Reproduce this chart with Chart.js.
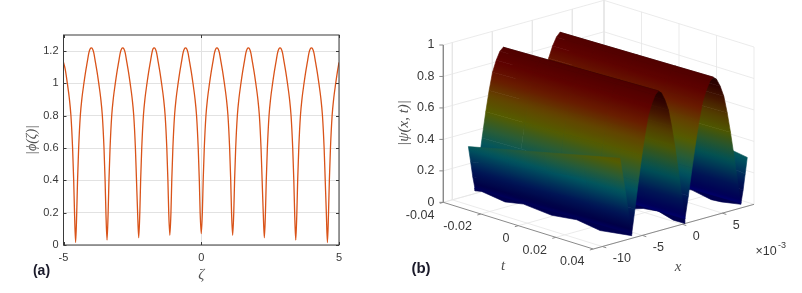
<!DOCTYPE html>
<html>
<head>
<meta charset="utf-8">
<title>phi and psi</title>
<script src="https://cdn.jsdelivr.net/npm/chart.js@4"></script>
<style>
    html, body { margin: 0; padding: 0; background: #fff; overflow: hidden; }
    canvas { position: absolute; top: 0; filter: blur(0.35px); }
    #grafico-a { left: 0; }
    #grafico-b { left: 380px; }
</style>
</head>
<body>
<canvas id="grafico-a" width="380" height="293"></canvas>
<canvas id="grafico-b" width="422" height="293"></canvas>
<script>
// panel (a)
const zeta = [-5, -4.94, -4.86, -4.79, -4.73, -4.67, -4.63, -4.6, -4.56,
    -4.52, -4.49, -4.45, -4.39, -4.33, -4.26, -4.2, -4.14, -4.08, -4.03, -3.99, -3.95, -3.9, -3.84, -3.78, -3.72, -3.65, -3.59, -3.53, -3.49, -3.46, -3.42,
    -3.38, -3.35, -3.31, -3.25, -3.19, -3.12, -3.06, -3, -2.94, -2.89, -2.85, -2.81, -2.76, -2.7, -2.64, -2.58, -2.51, -2.45, -2.39, -2.35, -2.31, -2.27,
    -2.23, -2.2, -2.16, -2.1, -2.04, -1.97, -1.91, -1.85, -1.79, -1.75, -1.71, -1.67, -1.62, -1.56, -1.5, -1.44, -1.37, -1.31, -1.25, -1.21, -1.18, -1.14,
    -1.1, -1.07, -1.03, -0.97, -0.91, -0.84, -0.78, -0.72, -0.66, -0.61, -0.57, -0.53, -0.48, -0.42, -0.36, -0.3, -0.23, -0.17, -0.11, -0.07, -0.04, 0,
    0.04, 0.07, 0.11, 0.17, 0.23, 0.3, 0.36, 0.42, 0.48, 0.53, 0.57, 0.61, 0.66, 0.72, 0.78, 0.84, 0.91, 0.97, 1.03, 1.07, 1.1, 1.14,
    1.18, 1.21, 1.25, 1.31, 1.37, 1.44, 1.5, 1.56, 1.62, 1.67, 1.71, 1.75, 1.8, 1.86, 1.92, 1.98, 2.05, 2.11, 2.17, 2.21, 2.25, 2.29,
    2.33, 2.36, 2.4, 2.46, 2.52, 2.59, 2.65, 2.71, 2.77, 2.82, 2.86, 2.9, 2.95, 3.01, 3.07, 3.13, 3.2, 3.26, 3.32, 3.36, 3.39, 3.43,
    3.47, 3.5, 3.54, 3.6, 3.66, 3.73, 3.79, 3.85, 3.91, 3.96, 4, 4.04, 4.09, 4.15, 4.21, 4.27, 4.34, 4.4, 4.46, 4.5, 4.54, 4.58,
    4.62, 4.65, 4.69, 4.75, 4.81, 4.88, 4.94, 5];
const phi = [1.13, 1.09, 1, 0.91, 0.8, 0.6, 0.4, 0.2, 0.015,
    0.2, 0.4, 0.6, 0.8, 0.91, 1, 1.07, 1.13, 1.19, 1.215, 1.22, 1.215, 1.19, 1.13, 1.07, 1, 0.91, 0.8, 0.6, 0.4, 0.2, 0.03,
    0.2, 0.4, 0.6, 0.8, 0.91, 1, 1.07, 1.13, 1.19, 1.215, 1.22, 1.215, 1.19, 1.13, 1.07, 1, 0.91, 0.8, 0.6, 0.4, 0.2, 0.045,
    0.2, 0.4, 0.6, 0.8, 0.91, 1, 1.07, 1.13, 1.19, 1.215, 1.22, 1.215, 1.19, 1.13, 1.07, 1, 0.91, 0.8, 0.6, 0.4, 0.2, 0.06,
    0.2, 0.4, 0.6, 0.8, 0.91, 1, 1.07, 1.13, 1.19, 1.215, 1.22, 1.215, 1.19, 1.13, 1.07, 1, 0.91, 0.8, 0.6, 0.4, 0.2, 0.07,
    0.2, 0.4, 0.6, 0.8, 0.91, 1, 1.07, 1.13, 1.19, 1.215, 1.22, 1.215, 1.19, 1.13, 1.07, 1, 0.91, 0.8, 0.6, 0.4, 0.2, 0.06,
    0.2, 0.4, 0.6, 0.8, 0.91, 1, 1.07, 1.13, 1.19, 1.215, 1.22, 1.215, 1.19, 1.13, 1.07, 1, 0.91, 0.8, 0.6, 0.4, 0.2, 0.045,
    0.2, 0.4, 0.6, 0.8, 0.91, 1, 1.07, 1.13, 1.19, 1.215, 1.22, 1.215, 1.19, 1.13, 1.07, 1, 0.91, 0.8, 0.6, 0.4, 0.2, 0.03,
    0.2, 0.4, 0.6, 0.8, 0.91, 1, 1.07, 1.13, 1.19, 1.215, 1.22, 1.215, 1.19, 1.13, 1.07, 1, 0.91, 0.8, 0.6, 0.4, 0.2, 0.015,
    0.2, 0.4, 0.6, 0.8, 0.91, 1, 1.07, 1.13];

// panel (b): surface edges at t = -0.04 and t = 0.04, x in units of 10^-3
const xBack = [-7.99, -7.71, -7.44, -7.16, -6.74, -6.28, -5.82, -5.4, -4.97, -4.51, -4.05, -3.63,
    -3.23, -2.79, -2.36, -1.96, -1.55, -1.12, -0.68, -0.28, 0.17, 0.66, 1.14, 1.59, 2.04, 2.53, 3.01, 3.46,
    3.84, 4.26, 4.67, 5.05, 5.44, 5.85, 6.26, 6.65, 6.98, 7.32, 7.65];
const xFront = [-7.79, -7.3, -6.81, -6.32, -5.92, -5.49, -5.05, -4.65, -4.26, -3.82, -3.39, -2.99,
    -2.59, -2.16, -1.73, -1.33, -0.93, -0.5, -0.07, 0.33, 0.76, 1.22, 1.68, 2.11, 2.53, 2.99, 3.45, 3.88,
    4.29, 4.74, 5.19, 5.61, 6.02, 6.47, 6.92, 7.33, 7.6, 7.86, 8.12];
const psiBack = [0.31, 0.21, 0.11, 0.03, 0.17, 0.34, 0.5, 0.63, 0.74, 0.81, 0.86, 0.88,
    0.86, 0.81, 0.74, 0.63, 0.5, 0.34, 0.17, 0.03, 0.17, 0.34, 0.49, 0.62, 0.73, 0.8, 0.85, 0.875,
    0.85, 0.8, 0.73, 0.62, 0.49, 0.33, 0.17, 0.03, 0.17, 0.33, 0.48];
const psiFront = [0.53, 0.37, 0.2, 0.03, 0.18, 0.35, 0.51, 0.64, 0.75, 0.82, 0.87, 0.89,
    0.87, 0.82, 0.75, 0.64, 0.51, 0.35, 0.18, 0.03, 0.17, 0.34, 0.5, 0.63, 0.74, 0.81, 0.86, 0.88,
    0.86, 0.81, 0.74, 0.63, 0.5, 0.34, 0.17, 0.03, 0.11, 0.21, 0.31];

// floor of the three valleys (rough mesh, wobbles along t)
const valleyCols = [3, 19, 35];
const valleyT = [
    [-0.04, -0.0366, -0.0247, -0.0153, -0.0009, 0.0119, 0.0238, 0.04],
    [-0.04, 0, 0.0141, 0.0184, 0.0262, 0.034, 0.04],
    [-0.04, 0.01, 0.0148, 0.0247, 0.0298, 0.04]
];
const valleyPsi = [
    [0.017, 0.025, 0.001, 0.021, 0.001, 0.018, -0.008, 0.017],
    [0.02, 0.02, 0, 0.018, 0.029, 0, 0],
    [0.02, 0.02, 0.023, -0.002, 0.002, 0.023]
];

const ticksX = [-10, -5, 0, 5];
const ticksT = [-0.04, -0.02, 0, 0.02, 0.04];
const ticksZ = [0, 0.2, 0.4, 0.6, 0.8, 1];
const labelsT = ["-0.04", "-0.02", "0", "0.02", "0.04"];

// colour of the surface against height; the second list is the shaded side seen under the arches
const mapaZ = [0, 0.06, 0.15, 0.3, 0.4, 0.5, 0.6, 0.7, 0.8, 0.9];
const mapaCor = [[0, 0, 105], [0, 0, 70], [0, 20, 85], [0, 85, 95], [42, 92, 52], [84, 92, 0], [98, 68, 0], [104, 28, 0], [94, 2, 0], [76, 0, 0]];
const mapaSombra = [[0, 0, 125], [0, 0, 85], [0, 20, 85], [0, 80, 85], [38, 85, 45], [78, 86, 0], [82, 60, 0], [70, 24, 0], [48, 2, 0], [30, 0, 0]];

const corTexto = "#383838";
const fonteTexto = '"Liberation Sans", Arial, sans-serif';
const fonteMat = '"Liberation Serif", "DejaVu Serif", serif';

// ---- painel (a) ----
const molduraA = {
    id: "molduraA",
    afterDatasetsDraw(chart) {
        const { ctx, chartArea: a, scales } = chart;
        ctx.save();
        ctx.strokeStyle = "#3a3a3a";
        ctx.lineWidth = 1;
        ctx.strokeRect(a.left, a.top, a.right - a.left, a.bottom - a.top);
        ctx.beginPath();
        scales.y.ticks.forEach(t => {
            const y = Math.round(scales.y.getPixelForValue(t.value)) + 0.5;
            ctx.moveTo(a.left, y); ctx.lineTo(a.left + 3, y);
            ctx.moveTo(a.right, y); ctx.lineTo(a.right - 3, y);
        });
        scales.x.ticks.forEach(t => {
            const x = Math.round(scales.x.getPixelForValue(t.value)) + 0.5;
            ctx.moveTo(x, a.bottom); ctx.lineTo(x, a.bottom - 3);
            ctx.moveTo(x, a.top); ctx.lineTo(x, a.top + 3);
        });
        ctx.stroke();
        ctx.fillStyle = "#1a1a2a";
        ctx.font = 'bold 14px ' + fonteTexto;
        ctx.textAlign = "center";
        ctx.textBaseline = "middle";
        ctx.fillText("(a)", 41.5, 271);
        ctx.restore();
    }
};

new Chart(document.getElementById("grafico-a"), {
    type: "line",
    data: {
        datasets: [{
            data: zeta.map((z, i) => ({ x: z, y: phi[i] })),
            borderColor: "#d95319",
            borderWidth: 1.3,
            pointRadius: 0,
            cubicInterpolationMode: "monotone"
        }]
    },
    options: {
        responsive: false,
        animation: false,
        events: [],
        layout: { padding: { top: 35, right: 41, left: 0, bottom: 0 } },
        plugins: { legend: { display: false }, tooltip: { enabled: false } },
        scales: {
            x: {
                type: "linear", min: -5, max: 5,
                afterFit: s => { s.height = 48; },
                grid: { color: "#e2e2e2", drawTicks: false },
                border: { display: false },
                ticks: { stepSize: 5, padding: 6, color: corTexto, maxRotation: 0, font: { family: fonteTexto, size: 11 } },
                title: { display: true, text: "ζ", color: "#505050", padding: { top: 0, bottom: 9 }, font: { family: fonteMat, style: "italic", size: 15 } }
            },
            y: {
                min: 0, max: 1.3,
                afterFit: s => { s.width = 63.5; },
                grid: { color: "#e2e2e2", drawTicks: false },
                border: { display: false },
                ticks: {
                    stepSize: 0.2, includeBounds: false, padding: 5, color: corTexto,
                    font: { family: fonteTexto, size: 11 },
                    callback: v => String(Math.round(v * 10) / 10)
                },
                title: { display: true, text: "|ϕ(ζ)|", color: "#505050", padding: { top: 24, bottom: 0 }, font: { family: fonteMat, style: "italic", size: 14 } }
            }
        }
    },
    plugins: [molduraA]
});

// ---- painel (b) ----
const ctxB = document.getElementById("grafico-b").getContext("2d");
const xMin = -11.12, xMax = 8.96;
const origem = [63.33, 202.33], eixoX = [160.67, -44.67], eixoT = [150, 46.67], eixoZ = [0, -157.33];

function projetar(x, t, z) {
    const u = (x - xMin) / (xMax - xMin), v = (t + 0.04) / 0.08;
    return {
        x: origem[0] + u * eixoX[0] + v * eixoT[0],
        y: origem[1] + u * eixoX[1] + v * eixoT[1] + z * eixoZ[1]
    };
}

function corDe(z, mapa) {
    let i = 0;
    while (i < mapaZ.length - 2 && z > mapaZ[i + 1]) i++;
    const f = Math.min(1, Math.max(0, (z - mapaZ[i]) / (mapaZ[i + 1] - mapaZ[i])));
    const c = mapa[i].map((v, k) => Math.round(v + (mapa[i + 1][k] - v) * f));
    return `rgb(${c[0]},${c[1]},${c[2]})`;
}

// gradiente do quadrilatero: acompanha a altura nos vertices (como shading interp)
function gradienteQuad(q, mapa) {
    const p = q.map(v => projetar(v.x, v.t, v.z));
    const ax = p[1].x - p[0].x, ay = p[1].y - p[0].y, az = q[1].z - q[0].z;
    const bx = p[3].x - p[0].x, by = p[3].y - p[0].y, bz = q[3].z - q[0].z;
    const det = ax * by - ay * bx;
    const zs = q.map(v => v.z);
    const zMin = Math.min(...zs), zMax = Math.max(...zs);
    if (Math.abs(det) < 1e-6 || zMax - zMin < 1e-4) return corDe((zMin + zMax) / 2, mapa);
    const gx = (az * by - bz * ay) / det, gy = (ax * bz - bx * az) / det;
    const g2 = gx * gx + gy * gy;
    const a = (zMin - q[0].z) / g2, b = (zMax - q[0].z) / g2;
    const grad = ctxB.createLinearGradient(p[0].x + a * gx, p[0].y + a * gy, p[0].x + b * gx, p[0].y + b * gy);
    for (let i = 0; i <= 6; i++) grad.addColorStop(i / 6, corDe(zMin + (zMax - zMin) * i / 6, mapa));
    return grad;
}

// pintados em ordem: do fundo para a frente
const camadas = [];

function linha(pts, cor, largura) {
    camadas.push({ data: pts, borderColor: cor, borderWidth: largura, pointRadius: 0, fill: false, tension: 0, clip: false });
}

function poligono(pts, cor) {
    camadas.push({ data: pts.concat([pts[0]]), borderColor: cor, backgroundColor: cor, borderWidth: 0.6, pointRadius: 0, fill: "shape", tension: 0, clip: false });
}

const corGrade = "#e6e6e6", corEixo = "#8a8a8a";

// paredes e chao
ticksZ.forEach(z => {
    linha([projetar(xMin, -0.04, z), projetar(xMax, -0.04, z)], corGrade, 0.8);
    linha([projetar(xMax, -0.04, z), projetar(xMax, 0.04, z)], corGrade, 0.8);
});
ticksX.forEach(x => {
    linha([projetar(x, -0.04, 1), projetar(x, -0.04, 0), projetar(x, 0.04, 0)], corGrade, 0.8);
});
ticksT.forEach(t => {
    linha([projetar(xMin, t, 0), projetar(xMax, t, 0), projetar(xMax, t, 1)], corGrade, 0.8);
});
linha([projetar(xMax, -0.04, 1), projetar(xMax, -0.04, 0)], corGrade, 0.8);

// eixos
linha([projetar(xMin, -0.04, 1), projetar(xMin, -0.04, 0), projetar(xMin, 0.04, 0), projetar(xMax, 0.04, 0)], corEixo, 1);
ticksZ.forEach(z => {
    const p = projetar(xMin, -0.04, z);
    linha([p, { x: p.x - 4, y: p.y }], corEixo, 1);
});
ticksT.forEach(t => {
    const p = projetar(xMin, t, 0);
    linha([p, { x: p.x - 3.5, y: p.y + 1 }], corEixo, 1);
});
ticksX.forEach(x => {
    const p = projetar(x, 0.04, 0);
    linha([p, { x: p.x + 4, y: p.y + 1.3 }], corEixo, 1);
});

// superficie: de x maior para x menor
const linhasT = 4;
for (let c = xBack.length - 2; c >= 0; c--) {
    const iv = valleyCols.indexOf(c + 1);
    if (iv >= 0) {
        const col = c + 1;
        const ida = valleyT[iv].map((t, i) => {
            const v = (t + 0.04) / 0.08;
            return projetar(xBack[col] + (xFront[col] - xBack[col]) * v, t, valleyPsi[iv][i]);
        });
        const volta = valleyT[iv].slice().reverse().map(t => {
            const v = (t + 0.04) / 0.08;
            return projetar(xBack[col] + (xFront[col] - xBack[col]) * v, t, 0.035);
        });
        poligono(ida.concat(volta), "rgb(0,0,78)");
    }
    const vert = (k, r) => {
        const v = r / linhasT;
        return {
            x: xBack[k] + (xFront[k] - xBack[k]) * v,
            t: -0.04 + 0.08 * v,
            z: psiBack[k] + (psiFront[k] - psiBack[k]) * v
        };
    };
    // lado que desce, visto por baixo do arco (menos o primeiro trecho, que fica virado para a frente)
    const sombra = c > valleyCols[0] && psiFront[c + 1] < psiFront[c];
    const mapa = sombra ? mapaSombra : mapaCor;
    for (let r = 0; r < linhasT; r++) {
        const q = [vert(c, r), vert(c + 1, r), vert(c + 1, r + 1), vert(c, r + 1)];
        poligono(q.map(p => projetar(p.x, p.t, p.z)), gradienteQuad(q, mapa));
    }
}

const textosB = {
    id: "textosB",
    afterDatasetsDraw(chart) {
        const { ctx } = chart;
        ctx.save();
        ctx.fillStyle = corTexto;
        ctx.font = "12.5px " + fonteTexto;
        ctx.textBaseline = "middle";
        ctx.textAlign = "right";
        ticksZ.forEach(z => {
            const p = projetar(xMin, -0.04, z);
            ctx.fillText(String(z), p.x - 9, p.y);
        });
        ticksT.forEach((t, i) => {
            const p = projetar(xMin, t, 0);
            ctx.fillText(labelsT[i], p.x - 9, p.y + 13);
        });
        ctx.textAlign = "left";
        ticksX.forEach(x => {
            const p = projetar(x, 0.04, 0);
            ctx.fillText(String(x), p.x + 10.5, p.y + 12);
        });
        ctx.textAlign = "center";
        ctx.fillText("×10", 386, 252);
        ctx.font = "9px " + fonteTexto;
        ctx.fillText("-3", 402, 245.5);

        ctx.fillStyle = "#505050";
        ctx.font = "italic 15px " + fonteMat;
        ctx.fillText("t", 123, 266);
        ctx.fillText("x", 298, 267);
        ctx.save();
        ctx.translate(24, 123);
        ctx.rotate(-Math.PI / 2);
        ctx.fillText("|ψ(x, t)|", 0, 0);
        ctx.restore();

        ctx.fillStyle = "#1a1a2a";
        ctx.font = "bold 15px " + fonteTexto;
        ctx.fillText("(b)", 41, 269);
        ctx.restore();
    }
};

new Chart(ctxB, {
    type: "line",
    data: { datasets: camadas.reverse() },
    options: {
        responsive: false,
        animation: false,
        events: [],
        layout: { padding: 0 },
        plugins: { legend: { display: false }, tooltip: { enabled: false } },
        scales: {
            x: { type: "linear", min: 0, max: 422, display: false },
            y: { type: "linear", min: 0, max: 293, reverse: true, display: false }
        }
    },
    plugins: [textosB]
});
</script>
</body>
</html>
